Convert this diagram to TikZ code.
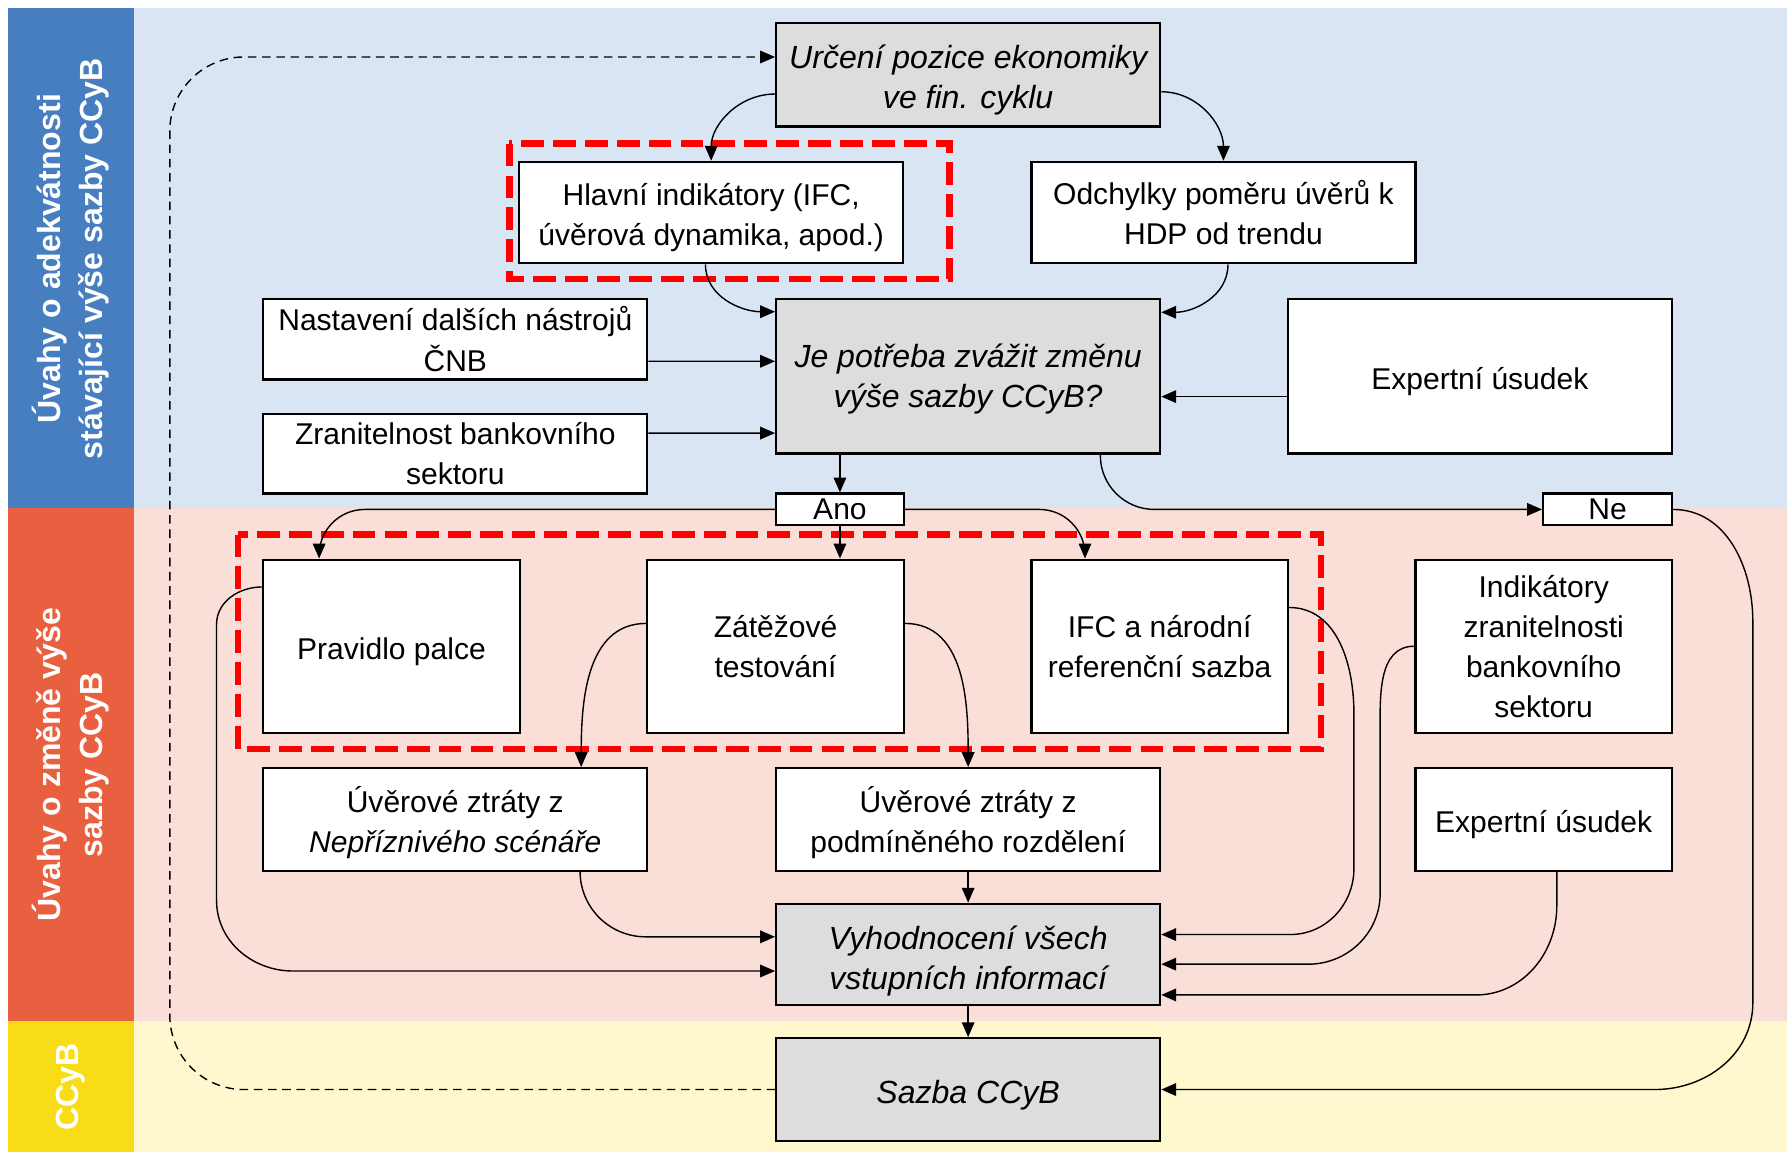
\documentclass[tikz,border=0pt]{standalone}
\usepackage{fontspec}
\setmainfont{Liberation Sans}
\usetikzlibrary{positioning,arrows.meta,calc}
\definecolor{cnbblue}{RGB}{70,126,192}
\definecolor{cnbbluelight}{RGB}{218,229,243}
\definecolor{cnbred}{RGB}{232,96,64}
\definecolor{cnbredlight}{RGB}{250,222,216}
\definecolor{cnbyellow}{RGB}{248,221,22}
\definecolor{cnbyellowlight}{RGB}{255,247,206}
\definecolor{boxgrey}{RGB}{221,221,221}
\definecolor{dashred}{RGB}{255,0,0}
\newcommand{\boxstrut}[1]{\rule{0pt}{#1}}

\begin{document}
\begin{tikzpicture}[x=0.02cm,y=0.02cm,
    box/.style={draw,line width=1.1pt,fill=white,inner sep=0pt,align=center,font=\fontsize{15}{20}\selectfont},
    greybox/.style={box,fill=boxgrey,font=\fontsize{16}{20}\selectfont\itshape},
    oneline/.style={execute at begin node={\rule{0pt}{17pt}},execute at end node={\rule[-3.5pt]{0pt}{3.5pt}}},
    wide/.style={minimum width=6.74cm},
    narrow/.style={minimum width=4.5cm},
    arr/.style={-{Triangle[length=2.6mm,width=2.2mm]},line width=0.7pt},
    loopline/.style={arr,dash pattern=on 0.15cm off 0.1cm},
    redgroup/.style={draw=dashred,line width=3.2pt,dash pattern=on 0.4cm off 0.16cm},
    bandlabel/.style={rotate=90,text=white,align=center,font=\fontsize{16}{21}\selectfont\bfseries}]
    \useasboundingbox (0,0) rectangle (1568,-1011);

    % Bands
    \fill[cnbbluelight] (117.5,-7) rectangle (1568,-446);
    \fill[cnbredlight] (117.5,-446) rectangle (1568,-896);
    \fill[cnbyellowlight] (117.5,-896) rectangle (1568,-1011);
    \fill[cnbblue] (7,-7) rectangle (117.5,-446);
    \fill[cnbred] (7,-446) rectangle (117.5,-896);
    \fill[cnbyellow] (7,-896) rectangle (117.5,-1011);
    \node[bandlabel] (lbltop) at (62,-227) {Úvahy o adekvátnosti\\stávající výše sazby CCyB};
    \node[bandlabel] (lblmid) at (62,-671) {Úvahy o změně výše\\sazby CCyB};
    \node[bandlabel] (lblbot) at (62,-954) {CCyB};

    % Red groups
    \draw[redgroup] (447,-126) rectangle (833,-245);
    \draw[redgroup] (209,-469) rectangle (1159,-657);

    % Upper part
    \node[greybox,wide,minimum height=1.82cm] (urceni) at (849.5,-65.5) {\boxstrut{17.5pt}Určení pozice ekonomiky\\ve fin. cyklu};
    \node[box,wide,minimum height=1.78cm] (hlavni) at (624,-186.5) {\boxstrut{15.6pt}Hlavní indikátory (IFC,\\úvěrová dynamika, apod.)};
    \node[box,wide,minimum height=1.78cm] (odchylky) at (1073.5,-186.5) {Odchylky poměru úvěrů k\\HDP od trendu};
    \node[box,wide,minimum height=1.42cm] (nastaveni) at (399.5,-297.5) {Nastavení dalších nástrojů\\ČNB};
    \node[greybox,wide,minimum height=2.72cm] (zvazit) at (849.5,-330) {\boxstrut{15pt}Je potřeba zvážit změnu\\výše sazby CCyB?};
    \node[box,oneline,wide,minimum height=2.72cm] (expertA) at (1298.5,-330) {Expertní úsudek};
    \node[box,wide,minimum height=1.4cm] (zranit) at (399.5,-398) {Zranitelnost bankovního\\sektoru};
    \node[box,minimum width=2.24cm,minimum height=0.56cm] (ano) at (737,-447) {Ano};
    \node[box,minimum width=2.26cm,minimum height=0.56cm] (ne) at (1410.5,-447) {Ne};

    % Lower part
    \node[box,oneline,narrow,minimum height=3.04cm] (palec) at (343.5,-567) {Pravidlo palce};
    \node[box,narrow,minimum height=3.04cm] (zatez) at (680.5,-567) {Zátěžové\\testování};
    \node[box,narrow,minimum height=3.04cm] (ifc) at (1017.5,-567) {IFC a národní\\referenční sazba};
    \node[box,narrow,minimum height=3.04cm] (indik) at (1354.5,-567) {Indikátory\\zranitelnosti\\bankovního\\sektoru};
    \node[box,wide,minimum height=1.8cm] (ztratyA) at (399.5,-719) {\boxstrut{16pt}Úvěrové ztráty z\\\textit{Nepříznivého scénáře}};
    \node[box,wide,minimum height=1.8cm] (ztratyB) at (849.5,-719) {\boxstrut{16pt}Úvěrové ztráty z\\podmíněného rozdělení};
    \node[box,oneline,narrow,minimum height=1.8cm] (expertB) at (1354.5,-719) {Expertní úsudek};
    \node[greybox,wide,minimum height=1.78cm] (vyhod) at (849.5,-837.5) {\boxstrut{18.5pt}Vyhodnocení všech\\vstupních informací};
    \node[greybox,oneline,wide,minimum height=1.8cm] (sazba) at (849.5,-956) {Sazba CCyB};

    % Bends
    \coordinate (looptop) at (149,-50);
    \coordinate (palecbend) at (190,-548);
    \coordinate (paleclow) at (190,-790);
    \coordinate (palecturn) at (257,-852);
    \coordinate (ifcbend) at (1188,-626);
    \coordinate (ifclow) at (1188,-762);
    \coordinate (ifcturn) at (1132,-820);
    \coordinate (indikbend) at (1211,-645);
    \coordinate (indiklow) at (1211,-784);
    \coordinate (indikturn) at (1148,-846);
    \coordinate (expertlow) at (1366,-795);
    \coordinate (expertturn) at (1295,-873);
    \coordinate (nebend) at (1538,-545);
    \coordinate (nelow) at (1538,-880);
    \coordinate (neturn) at (1452,-956);

    % Arrows, upper part
    \draw[loopline,rounded corners=1.3cm] (sazba.west) -| (looptop) -- ([yshift=0.31cm]urceni.west);
    \draw[arr] ([yshift=-0.34cm]urceni.west) to[out=180,in=90] (hlavni.north);
    \draw[arr] ([yshift=-0.3cm]urceni.east) to[out=0,in=90] (odchylky.north);
    \draw[arr] ([xshift=-0.1cm]hlavni.south) to[out=-90,in=180] ([yshift=1.13cm]zvazit.west);
    \draw[arr] ([xshift=0.08cm]odchylky.south) to[out=-90,in=0] ([yshift=1.12cm]zvazit.east);
    \draw[arr] ([yshift=-0.39cm]nastaveni.east) -- ([yshift=0.26cm]zvazit.west);
    \draw[arr] ([yshift=0.36cm]zranit.east) -- ([yshift=-1cm]zvazit.west);
    \draw[arr] ([yshift=-0.36cm]expertA.west) -- ([yshift=-0.36cm]zvazit.east);
    \draw[arr] (zvazit.south -| ano.north) -- (ano.north);
    \draw[arr,rounded corners=0.95cm] ([xshift=2.32cm]zvazit.south) |- (ne.west);

    % Arrows, lower part
    \draw[arr,rounded corners=0.8cm] (ano.west) -| ([xshift=-1.27cm]palec.north);
    \draw[arr] (ano.south) -- (ano.south |- zatez.north);
    \draw[arr,rounded corners=0.8cm] (ano.east) -| ([xshift=-1.31cm]ifc.north);
    \draw[arr] (ne.east) to[out=0,in=90] (nebend) -- (nelow) to[out=-90,in=0] (neturn) -- (sazba.east);
    \draw[arr] ([yshift=1.04cm]palec.west) to[out=180,in=90] (palecbend) -- (paleclow)
        to[out=-90,in=180] (palecturn) -- ([yshift=-0.29cm]vyhod.west);
    \draw[arr] ([yshift=0.4cm]zatez.west) to[out=180,in=90] ([xshift=2.21cm]ztratyA.north);
    \draw[arr] ([yshift=0.4cm]zatez.east) to[out=0,in=90] (ztratyB.north);
    \draw[arr,rounded corners=1.15cm] ([xshift=2.19cm]ztratyA.south) |- ([yshift=0.31cm]vyhod.west);
    \draw[arr] (ztratyB.south) -- (vyhod.north);
    \draw[arr] ([yshift=0.68cm]ifc.east) to[out=0,in=90] (ifcbend) -- (ifclow)
        to[out=-90,in=0] (ifcturn) -- ([yshift=0.35cm]vyhod.east);
    \draw[arr] (indik.west) to[out=180,in=90] (indikbend) -- (indiklow)
        to[out=-90,in=0] (indikturn) -- ([yshift=-0.17cm]vyhod.east);
    \draw[arr] ([xshift=0.23cm]expertB.south) -- (expertlow)
        to[out=-90,in=0] (expertturn) -- ([yshift=-0.71cm]vyhod.east);
    \draw[arr] (vyhod.south) -- (sazba.north);
\end{tikzpicture}
\end{document}
